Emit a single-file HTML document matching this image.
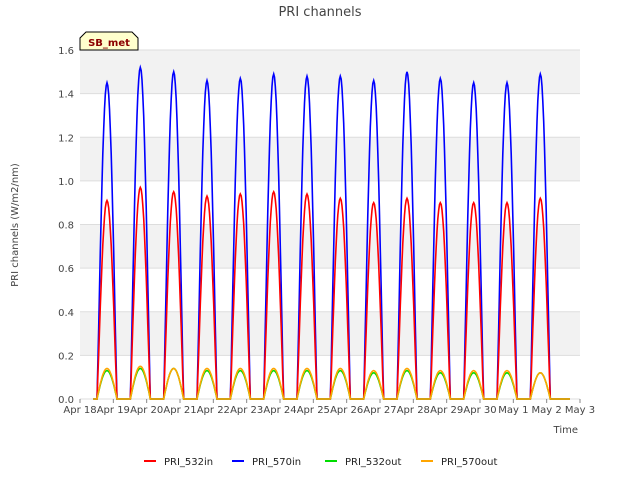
<!DOCTYPE html>
<html><head><meta charset="utf-8"><style>
body{margin:0;background:#fff;font-family:"Liberation Sans","DejaVu Sans",sans-serif;}
text{font-family:"DejaVu Sans","Liberation Sans",sans-serif;}
</style></head><body>
<svg id="chart" width="640" height="480" viewBox="0 0 640 480" xmlns="http://www.w3.org/2000/svg">
<rect x="0" y="0" width="640" height="480" fill="#fff"/>
<text x="320" y="16" text-anchor="middle" font-size="13" fill="#444">PRI channels</text>
<g id="bands"></g>
<g id="grid"></g>
<g id="series"></g>
<g id="axes"></g>
<text transform="translate(18,225) rotate(-90)" text-anchor="middle" font-size="10" fill="#444">PRI channels (W/m2/nm)</text>
<text x="578" y="433" text-anchor="end" font-size="10" fill="#444">Time</text>
<g>
<path d="M80,50 L80,38 L86,32 L132,32 L138,38 L138,50 Z" fill="#ffffcc" stroke="#000" stroke-width="1"/>
<text x="109" y="46" text-anchor="middle" font-size="10" font-weight="bold" fill="#8b0000">SB_met</text>
</g>
<g id="legend"></g>
</svg>
<script>
const NS="http://www.w3.org/2000/svg";
const dayLabels=["Apr 18","Apr 19","Apr 20","Apr 21","Apr 22","Apr 23","Apr 24","Apr 25","Apr 26","Apr 27","Apr 28","Apr 29","Apr 30","May 1","May 2","May 3"];
const yTicks=[0,0.2,0.4,0.6,0.8,1.0,1.2,1.4,1.6];
const peakIn570=[1.45,1.52,1.50,1.46,1.47,1.49,1.48,1.48,1.46,1.50,1.47,1.45,1.45,1.49];
const peakIn532=[0.91,0.97,0.95,0.93,0.94,0.95,0.94,0.92,0.90,0.92,0.90,0.90,0.90,0.92];
const peakOut532=[0.13,0.14,0.14,0.13,0.13,0.13,0.13,0.13,0.12,0.13,0.12,0.12,0.12,0.12];
const peakOut570=[0.14,0.15,0.14,0.14,0.14,0.14,0.14,0.14,0.13,0.14,0.13,0.13,0.13,0.12];
const L=80,R=580,T=50,B=399;
const xS=d=>L+(R-L)*d/15;
const yS=v=>B-(B-T)*v/1.6;
function mk(tag,attrs,parent){const e=document.createElementNS(NS,tag);for(const k in attrs)e.setAttribute(k,attrs[k]);parent.appendChild(e);return e;}
const bands=document.getElementById('bands'),grid=document.getElementById('grid'),axes=document.getElementById('axes');
mk('rect',{x:L,y:T,width:R-L,height:B-T,fill:'#fff'},bands);
for(let i=1;i<yTicks.length-1;i+=2){
 const r=mk('rect',{x:L,y:yS(yTicks[i+1]),width:R-L,height:yS(yTicks[i])-yS(yTicks[i+1]),fill:'#f2f2f2'},bands);
 
 
}
yTicks.forEach(v=>{
 const ln=mk('line',{x1:L,x2:R,y1:yS(v),y2:yS(v),stroke:'#ddd','stroke-width':1},grid);
 
 
 const t=mk('text',{x:L-6,y:yS(v)+4,'text-anchor':'end','font-size':10,fill:'#444'},axes);
 t.textContent=v.toFixed(1);
 
 
});
dayLabels.forEach((lab,i)=>{
 const t=mk('text',{x:xS(i),y:413,'text-anchor':'middle','font-size':10,fill:'#444'},axes);
 t.textContent=lab;
 
 
 const tk=mk('line',{x1:xS(i),x2:xS(i),y1:B,y2:B+4,stroke:'#888'},axes);
 
 
});
function seriesPoints(peaks,start,len,pw){
 const pts=[[xS(0.4),yS(0)]];
 peaks.forEach((p,k)=>{
  const s=k+start;
  pts.push([xS(s),yS(0)]);
  for(let j=0;j<=24;j++){const f=j/24;const v=p*Math.pow(Math.sin(Math.PI*f),pw);pts.push([xS(s+len*f),yS(v)]);}
 });
 pts.push([xS(14.7),yS(0)]);
 return pts.map(p=>p[0].toFixed(1)+','+p[1].toFixed(1)).join(' ');
}
const series=[
 {name:'PRI_532in',color:'#ff0000',peaks:peakIn532,pw:1.1},
 {name:'PRI_570in',color:'#0000ff',peaks:peakIn570,pw:1.1},
 {name:'PRI_532out',color:'#00dd00',peaks:peakOut532,pw:1.0},
 {name:'PRI_570out',color:'#ffa500',peaks:peakOut570,pw:1.0}
];
const sg=document.getElementById('series');
[1,0,2,3].forEach(i=>{
 const s=series[i];
 const pl=mk('polyline',{points:seriesPoints(s.peaks,0.51,0.6,s.pw),fill:'none',stroke:s.color,'stroke-width':1.6},sg);
 
 
});
const lg=document.getElementById('legend');
const lx=[144,232,325,421];
series.forEach((s,i)=>{
 const g=mk('g',{},lg);
 
 
 mk('line',{x1:lx[i],x2:lx[i]+12,y1:461,y2:461,stroke:s.color,'stroke-width':2},g);
 const t=mk('text',{x:lx[i]+20,y:465,'font-size':10,fill:'#222'},g);
 t.textContent=s.name;
});
</script>
</body></html>
